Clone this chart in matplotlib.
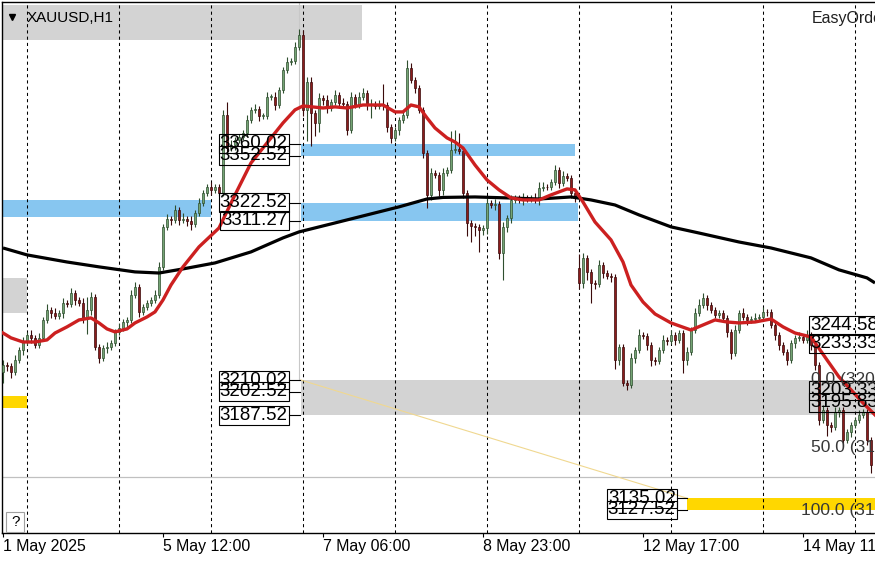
import numpy as np
import matplotlib.pyplot as plt
from matplotlib.patches import Rectangle

plt.rcParams['font.family'] = ['Liberation Sans', 'DejaVu Sans']

# hourly closes, XAUUSD H1 (one value per bar, left to right)
closes = [
    3219.6, 3219.0, 3215.2, 3222.8, 3229.2, 3234.2, 3238.7, 3236.8, 3232.3, 3236.8,
    3248.2, 3254.6, 3252.6, 3250.7, 3252.6, 3259.0, 3258.4, 3265.3, 3260.9, 3259.0,
    3249.5, 3254.6, 3262.8, 3231.1, 3224.1, 3230.4, 3231.1, 3233.6, 3240.6, 3243.1,
    3246.9, 3248.2, 3264.1, 3269.2, 3253.3, 3256.5, 3259.0, 3260.9, 3264.1, 3281.9,
    3307.3, 3312.3, 3311.7, 3318.1, 3311.7, 3312.3, 3311.1, 3309.2, 3316.1, 3322.5,
    3328.8, 3332.7, 3330.8, 3332.7, 3328.8, 3378.4, 3357.4, 3359.3, 3362.5, 3364.4,
    3366.9, 3375.2, 3381.6, 3382.2, 3377.7, 3377.7, 3389.8, 3389.8, 3384.7, 3394.3,
    3407.0, 3412.0, 3412.7, 3421.6, 3429.2, 3381.6, 3399.3, 3379.6, 3373.3, 3389.2,
    3387.9, 3382.8, 3386.6, 3391.1, 3386.0, 3385.4, 3368.9, 3389.8, 3384.7, 3389.8,
    3392.3, 3384.7, 3385.5, 3384.0, 3385.0, 3384.7, 3370.8, 3363.8, 3368.9, 3375.2,
    3378.4, 3408.2, 3400.6, 3395.5, 3381.6, 3354.2, 3327.6, 3341.5, 3340.3, 3330.8,
    3341.5, 3343.5, 3356.2, 3357.0, 3355.5, 3328.8, 3309.8, 3307.9, 3307.3, 3305.4,
    3306.6, 3322.5, 3321.2, 3321.8, 3290.7, 3307.3, 3313.0, 3324.4, 3325.7, 3324.4,
    3325.7, 3325.0, 3325.7, 3324.4, 3332.0, 3332.7, 3332.5, 3335.8, 3343.5, 3335.2,
    3339.6, 3338.4, 3328.8, 3326.3, 3271.7, 3287.6, 3278.7, 3271.7, 3271.0, 3283.1,
    3278.0, 3276.1, 3275.5, 3222.8, 3231.1, 3208.2, 3206.9, 3224.1, 3229.2, 3238.7,
    3238.2, 3232.3, 3222.8, 3222.3, 3229.2, 3235.5, 3235.0, 3238.7, 3235.5, 3239.9,
    3222.8, 3227.9, 3241.8, 3252.6, 3257.7, 3262.2, 3257.7, 3254.6, 3251.4, 3252.6,
    3249.5, 3240.6, 3227.2, 3241.8, 3252.6, 3250.1, 3248.2, 3248.6, 3249.5, 3250.1,
    3253.3, 3253.0, 3245.0, 3238.7, 3232.3, 3227.9, 3222.8, 3233.6, 3236.8, 3237.4,
    3235.5, 3238.7, 3232.3, 3219.6, 3184.7, 3191.0, 3181.5, 3180.3, 3189.8, 3191.0,
    3172.0, 3177.1, 3181.5, 3184.7, 3187.9, 3189.8, 3172.0, 3156.1,
]
# wick lengths above / below the body, in dollars
upper_wick = [
    3, 2, 2, 3, 2, 3, 2, 3, 2, 3, 2, 4, 2, 3, 2, 3, 2, 3, 2, 2,
    3, 8, 3, 2, 2, 2, 3, 2, 2, 3, 2, 2, 3, 3, 2, 2, 2, 2, 3, 3,
    2, 3, 2, 3, 2, 4, 2, 3, 2, 3, 2, 2, 3, 2, 2, 3, 8, 3, 2, 2,
    2, 3, 2, 3, 2, 2, 3, 2, 3, 2, 2, 3, 2, 3, 4, 3, 3, 3, 2, 3,
    2, 3, 2, 3, 2, 3, 2, 3, 2, 3, 3, 2, 3, 2, 3, 13, 2, 2, 2, 2,
    2, 5, 3, 2, 2, 2, 2, 3, 2, 2, 3, 2, 12, 12, 10, 2, 2, 2, 2, 2,
    2, 3, 2, 3, 2, 3, 2, 3, 2, 2, 3, 2, 2, 3, 4, 3, 2, 2, 3, 2,
    3, 2, 2, 2, 9, 3, 2, 2, 2, 3, 2, 2, 2, 2, 2, 2, 2, 3, 2, 4,
    2, 2, 2, 2, 2, 3, 2, 3, 2, 2, 2, 3, 2, 3, 4, 3, 2, 2, 2, 2,
    2, 2, 2, 3, 2, 3, 2, 2, 3, 2, 3, 2, 2, 2, 2, 2, 2, 2, 2, 3,
    2, 3, 2, 2, 2, 3, 2, 2, 3, 2, 2, 2, 2, 2, 3, 2, 2, 2,
]
lower_wick = [
    7, 3, 4, 2, 2, 3, 2, 3, 2, 2, 2, 2, 3, 2, 2, 3, 2, 2, 3, 2,
    3, 10, 3, 2, 3, 2, 3, 2, 2, 2, 2, 3, 2, 2, 3, 2, 2, 2, 2, 2,
    2, 2, 3, 2, 3, 2, 3, 4, 2, 2, 2, 2, 3, 2, 2, 2, 3, 2, 3, 2,
    2, 2, 2, 2, 3, 2, 2, 2, 3, 2, 2, 2, 2, 2, 2, 4, 20, 21, 8, 6,
    3, 3, 2, 2, 3, 2, 3, 2, 2, 2, 2, 3, 8, 2, 2, 3, 3, 3, 2, 3,
    2, 2, 2, 3, 2, 3, 8, 3, 2, 4, 3, 2, 2, 2, 2, 3, 8, 10, 6, 14,
    3, 4, 2, 3, 4, 17, 3, 3, 2, 2, 3, 2, 2, 2, 3, 2, 2, 2, 2, 3,
    2, 2, 3, 3, 4, 3, 5, 13, 3, 2, 3, 2, 3, 6, 3, 2, 3, 2, 3, 2,
    2, 3, 4, 3, 2, 2, 3, 2, 3, 2, 8, 3, 2, 2, 2, 2, 3, 2, 2, 2,
    2, 3, 4, 2, 2, 2, 3, 2, 2, 2, 2, 2, 2, 3, 3, 2, 3, 2, 3, 2,
    2, 2, 3, 3, 3, 2, 7, 3, 2, 3, 4, 2, 3, 2, 2, 2, 3, 5,
]
first_open = 3215.2
gap_bar, gap_open = 144, 3281.2   # Monday open after the weekend gap

# moving averages at selected bars
red_ma_bar = [0, 2, 5, 8, 11, 13, 16, 19, 22, 24, 26, 28, 31, 33, 36, 38, 40, 42, 45, 49,
              54, 58, 62, 66, 70, 73, 75, 80, 83, 86, 90, 95, 98, 100, 102, 104, 106, 108, 111, 113,
              115, 118, 121, 124, 127, 130, 134, 137, 141, 143, 145, 148, 152, 155, 157, 160, 163, 167, 172, 175,
              178, 181, 184, 188, 192, 195, 198, 202, 206, 209, 212, 215, 218]
red_ma = [3239.9, 3236.8, 3234.2, 3234.2, 3235.5, 3239.9, 3243.8, 3248.2, 3249.5, 3246.3,
          3242.5, 3240.6, 3242.5, 3246.3, 3250.1, 3253.3, 3260.9, 3270.4, 3281.9, 3294.6,
          3306.6, 3327.6, 3347.9, 3360.6, 3373.3, 3381.6, 3384.1, 3382.8, 3383.5, 3382.8,
          3384.7, 3384.7, 3380.3, 3380.3, 3384.7, 3383.5, 3376.5, 3370.1, 3363.8, 3361.2,
          3357.4, 3346.6, 3337.1, 3330.8, 3325.7, 3324.4, 3324.4, 3327.6, 3331.4, 3330.8,
          3323.1, 3310.4, 3299.0, 3285.0, 3270.4, 3259.6, 3252.0, 3246.3, 3241.8, 3245.0,
          3248.2, 3246.9, 3246.3, 3246.9, 3248.8, 3243.8, 3239.9, 3237.4, 3222.8, 3212.0,
          3203.8, 3195.5, 3187.9]
black_ma_bar = [0, 6, 16, 24, 33, 39, 45, 53, 62, 70, 74, 83, 91, 99, 106, 110, 118, 126, 134, 142,
                147, 153, 159, 167, 174, 184, 192, 202, 209, 216, 218]
black_ma = [3293.9, 3289.5, 3285.0, 3281.9, 3278.7, 3278.0, 3280.6, 3284.4, 3291.4, 3300.3,
            3304.1, 3309.8, 3314.9, 3320.0, 3325.0, 3326.0, 3326.3, 3325.7, 3325.0, 3326.3,
            3324.4, 3321.2, 3314.9, 3307.3, 3303.4, 3297.7, 3293.9, 3287.6, 3280.0, 3274.9,
            3271.7]

date_bars = [0, 40, 80, 120, 160, 200]
date_labels = ['1 May 2025', '5 May 12:00', '7 May 06:00', '8 May 23:00', '12 May 17:00', '14 May 11:00']
day_sep_bars = [6, 29, 52, 75, 98, 121, 144, 167, 190, 213]

# zones: bar from, bar to, low price, high price, colour
zones = [
    (-0.25, 52.0, 3313.6, 3324.4, '#87c6f0'),
    (74.5, 143.0, 3352.52, 3360.02, '#87c6f0'),
    (74.5, 143.75, 3311.27, 3322.52, '#87c6f0'),
    (74.5, 219.0, 3187.52, 3210.02, '#d3d3d3'),
    (-0.25, 6.0, 3252.6, 3274.9, '#d3d3d3'),
    (-0.25, 6.0, 3192.3, 3200.0, '#ffd700'),
    (171.0, 219.0, 3127.52, 3135.02, '#ffd700'),
]
left_levels = [3360.02, 3352.52, 3322.52, 3311.27, 3210.02, 3202.52, 3187.52]
mid_levels = [3135.02, 3127.52]
right_levels = [3244.58, 3233.33, 3203.33, 3195.83]
fib_texts = [('0.0 (3209.52)', 202.0, 3210.3), ('50.0 (3168.52)', 202.0, 3167.5),
             ('100.0 (3127.52)', 199.5, 3127.0)]

closes = np.array(closes)
opens = np.r_[first_open, closes[:-1]]
opens[gap_bar] = gap_open
highs = np.maximum(opens, closes) + np.array(upper_wick)
lows = np.minimum(opens, closes) - np.array(lower_wick)
bars = np.arange(len(closes))

fig = plt.figure(figsize=(8.75, 5.62), dpi=100)
ax = fig.add_axes([2 / 875, 29 / 562, 873 / 875, 531 / 562])
ax.set_xlim(-0.25, 218.0)
ax.set_ylim(3112.9, 3450.1)

# header strip
ax.add_patch(Rectangle((-0.25, 3426.0), 90.0, 22.2, color='#d3d3d3', lw=0, zorder=1))
for x0, x1, lo, hi, col in zones:
    ax.add_patch(Rectangle((x0, lo), x1 - x0, hi - lo, color=col, lw=0, zorder=1))

for b in day_sep_bars:
    ax.axvline(b, color='black', lw=0.75, ls=(0, (3, 3)), zorder=2)
ax.axhline(3148.5, color='#c0c0c0', lw=0.9, zorder=2)
ax.plot([74, 74], [3210.02, 3450], color='#c8c8c8', lw=0.8, zorder=2)
ax.plot([74.5, 171.0], [3210.02, 3135.02], color='#f0d890', lw=0.8, zorder=2)

# candles
up = closes >= opens
ax.vlines(bars[up], lows[up], highs[up], color='#2f4f2f', lw=0.8, zorder=3)
ax.vlines(bars[~up], lows[~up], highs[~up], color='#3a0a0a', lw=0.8, zorder=3)
body = np.maximum(np.abs(closes - opens), 0.4)
ax.bar(bars[up], body[up], bottom=np.minimum(opens, closes)[up], width=0.7,
       color='#74a474', edgecolor='#2f4f2f', lw=0.5, zorder=3)
ax.bar(bars[~up], body[~up], bottom=np.minimum(opens, closes)[~up], width=0.7,
       color='#8b1c1c', edgecolor='#3a0a0a', lw=0.5, zorder=3)

ax.plot(black_ma_bar, black_ma, color='black', lw=2.3, zorder=4, solid_capstyle='butt')
ax.plot(red_ma_bar, red_ma, color='#cc2020', lw=2.4, zorder=4)

box = dict(boxstyle='square,pad=0.05', fc='none', ec='black', lw=0.8)
for lv in left_levels:
    ax.text(71.2, lv, f'{lv:.2f}', ha='right', va='center', fontsize=13.5, bbox=box, zorder=5)
    ax.plot([71.5, 74.3], [lv, lv], color='black', lw=0.8, zorder=5)
for lv in mid_levels:
    ax.text(168.2, lv, f'{lv:.2f}', ha='right', va='center', fontsize=13.5, bbox=box, zorder=5)
    ax.plot([168.5, 171.0], [lv, lv], color='black', lw=0.8, zorder=5)
for lv in right_levels:
    ax.text(201.8, lv, f'{lv:.2f}', ha='left', va='center', fontsize=13.5, bbox=box, zorder=5)
for txt, xb, yv in fib_texts:
    ax.text(xb, yv, txt, ha='left', va='center', fontsize=12.5, color='#383838', zorder=5)

# chart window overlays
ax.plot([2.25], [3440.3], marker='v', color='black', ms=5, zorder=6, clip_on=False)
ax.text(5.9, 3439.8, 'XAUUSD,H1', ha='left', va='center', fontsize=11, zorder=6)
ax.text(202.2, 3439.8, 'EasyOrder', ha='left', va='center', fontsize=11.5, color='#202020', zorder=6)
ax.add_patch(Rectangle((0.8, 3113.6), 4.5, 12.7, fc='white', ec='#a0a0a0', lw=0.8, zorder=6))
ax.text(3.05, 3120.0, '?', ha='center', va='center', fontsize=11, zorder=7)

ax.set_xticks(date_bars)
ax.set_xticklabels(date_labels, ha='left', fontsize=11.4)
ax.tick_params(axis='x', direction='out', length=3, width=0.8, pad=1.5)
ax.set_yticks([])
ax.spines['right'].set_visible(False)
for s in ['left', 'top', 'bottom']:
    ax.spines[s].set_linewidth(1.0)

fig.savefig('out.png', dpi=100)
